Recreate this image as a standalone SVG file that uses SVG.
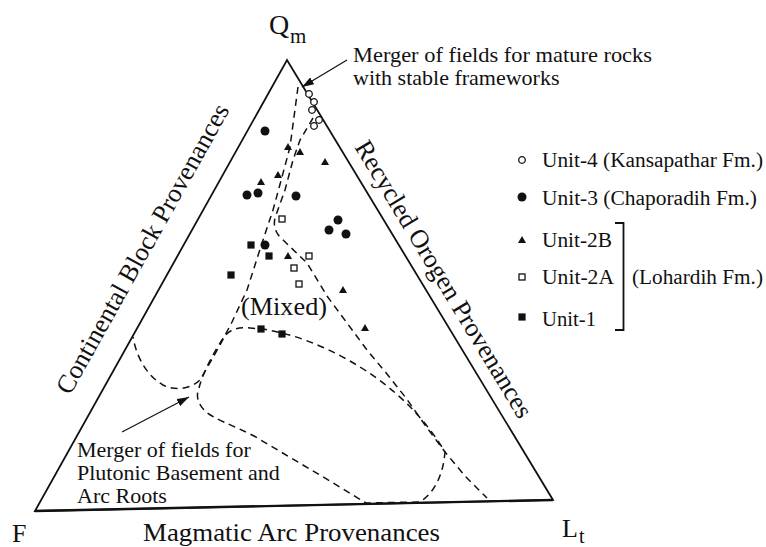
<svg xmlns="http://www.w3.org/2000/svg" xmlns:xlink="http://www.w3.org/1999/xlink" width="766" height="547" viewBox="0 0 766 547">
<style>
text{font-family:"Liberation Serif","Times New Roman",serif;fill:#111}
.edge{fill:none;stroke:#111;stroke-width:1.8;stroke-linejoin:miter}
.dash{fill:none;stroke:#111;stroke-width:1.5;stroke-dasharray:7,5}
.arr{fill:none;stroke:#111;stroke-width:1.2}
.t22{font-size:22px}
.big{font-size:26px}
.leg{font-size:21.3px}
</style>
<defs>
<marker id="ah" viewBox="0 0 12 8" refX="12" refY="4" markerWidth="12" markerHeight="8" markerUnits="userSpaceOnUse" orient="auto">
<path d="M0,0 L12,4 L0,8 Z" fill="#111"/>
</marker>
<circle id="oc" r="3.3" fill="#fff" stroke="#111" stroke-width="1.3"/>
<circle id="fc" r="4.5" fill="#111"/>
<path id="tr" d="M0,-4 L4,3 L-4,3 Z" fill="#111"/>
<rect id="os" x="-3" y="-3" width="6" height="6" fill="#fff" stroke="#111" stroke-width="1.3"/>
<rect id="fs" x="-3.6" y="-3.6" width="7.2" height="7.2" fill="#111"/>
</defs>

<g id="ternary-frame">
<path class="edge" d="M35,511 L287,60 L553,500 Z"/>
<path d="M35,511 L553,500" stroke="#111" stroke-width="2.4" fill="none"/>
</g>

<g id="connectors">
<path id="left-line" class="dash" d="M298,87 L290,147 L282,177 L273,210 L263,240 L247,290 L232,322 L220,345 L207,368 L200,380 C192,388 176,392 163,385 C149,377 137,360 133,337"/>
<path id="right-line" class="dash" d="M313,118 L300,140 L293,160 L285,190 L276,215 Q271,228 281,238 L307,263 L327,296 L347,323 L367,350 L387,374 L406,398 L425,425 L445,452 L465,476 L487,498"/>
<path id="arc-field" class="dash" d="M199,388 C203,372 215,350 224,337 C230,329 238,327 250,328 L262,329 C290,333 320,344 350,361 C385,381 420,410 445,452 C443,475 435,492 420,502 L366,503 L330,481 L254,436 C230,424 214,419 205,411 C197,403 196,395 199,388"/>
<path class="arr" d="M347,60 L302,87" marker-end="url(#ah)"/>
<path class="arr" d="M122,432 L189,397" marker-end="url(#ah)"/>
</g>

<g id="data">
<use href="#oc" x="309" y="94"/>
<use href="#oc" x="314" y="102"/>
<use href="#oc" x="312" y="110"/>
<use href="#oc" x="319" y="120"/>
<use href="#oc" x="314" y="126"/>
<use href="#fc" x="265" y="131"/>
<use href="#fc" x="247" y="195"/>
<use href="#fc" x="258" y="193"/>
<use href="#fc" x="296" y="196"/>
<use href="#fc" x="338" y="220"/>
<use href="#fc" x="329" y="230"/>
<use href="#fc" x="346" y="234"/>
<use href="#fc" x="265" y="245"/>
<use href="#tr" x="288" y="147"/>
<use href="#tr" x="300" y="152"/>
<use href="#tr" x="325" y="162"/>
<use href="#tr" x="261" y="182"/>
<use href="#tr" x="278" y="175"/>
<use href="#tr" x="288" y="256"/>
<use href="#tr" x="343" y="290"/>
<use href="#tr" x="365" y="328"/>
<use href="#os" x="282" y="219"/>
<use href="#os" x="309" y="256"/>
<use href="#os" x="294" y="268"/>
<use href="#os" x="299" y="284"/>
<use href="#fs" x="251" y="245"/>
<use href="#fs" x="269" y="256"/>
<use href="#fs" x="231" y="275"/>
<use href="#fs" x="261" y="329"/>
<use href="#fs" x="282" y="334"/>
</g>

<g id="labels">
<text x="269" y="34" font-size="28">Q</text>
<text x="290" y="43" font-size="21">m</text>
<text x="12" y="542" class="big">F</text>
<text x="562" y="537" class="big">L</text>
<text x="579" y="543" font-size="20">t</text>
<text x="143" y="541" class="big" textLength="297" lengthAdjust="spacingAndGlyphs">Magmatic Arc Provenances</text>
<text transform="translate(70,396) rotate(-60.8)" class="big">Continental Block Provenances</text>
<text transform="translate(354,147) rotate(58.85)" class="big">Recycled Orogen Provenances</text>
<text x="241" y="315" font-size="25" textLength="86" lengthAdjust="spacingAndGlyphs">(Mixed)</text>
<text x="353" y="62" class="t22" textLength="299" lengthAdjust="spacingAndGlyphs">Merger of fields for mature rocks</text>
<text x="353" y="85" class="t22">with stable frameworks</text>
<text x="77" y="457" class="t22">Merger of fields for</text>
<text x="77" y="480" class="t22">Plutonic Basement and</text>
<text x="77" y="503" class="t22">Arc Roots</text>
</g>

<g id="legend">
<use href="#oc" x="522" y="160"/>
<use href="#fc" x="522" y="197"/>
<use href="#tr" x="522" y="240"/>
<use href="#os" x="522" y="277"/>
<use href="#fs" x="522" y="317"/>
<text x="542" y="167" class="leg" textLength="221" lengthAdjust="spacingAndGlyphs">Unit-4 (Kansapathar Fm.)</text>
<text x="542" y="205" class="leg" textLength="215" lengthAdjust="spacingAndGlyphs">Unit-3 (Chaporadih Fm.)</text>
<text x="542" y="247" class="leg" textLength="70" lengthAdjust="spacingAndGlyphs">Unit-2B</text>
<text x="542" y="284" class="leg" textLength="72" lengthAdjust="spacingAndGlyphs">Unit-2A</text>
<text x="542" y="326" class="leg" textLength="54" lengthAdjust="spacingAndGlyphs">Unit-1</text>
<path d="M615,223 L623.5,223 L623.5,330 L615,330" fill="none" stroke="#111" stroke-width="1.8"/>
<text x="632" y="284" class="leg" textLength="131" lengthAdjust="spacingAndGlyphs">(Lohardih Fm.)</text>
</g>
</svg>
